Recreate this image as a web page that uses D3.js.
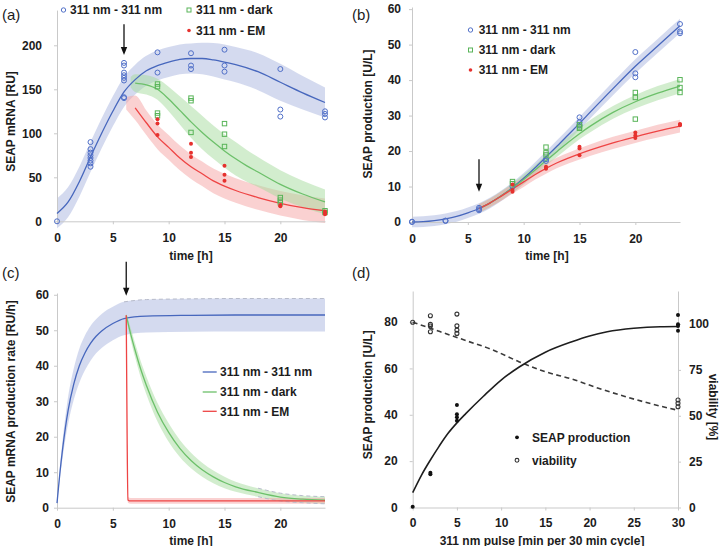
<!DOCTYPE html>
<html><head><meta charset="utf-8">
<script src="https://cdn.jsdelivr.net/npm/d3@7"></script>
<style>
body{margin:0;background:#fff;}
text{font-family:"Liberation Sans",Arial,sans-serif;}
</style></head><body>
<script>
// ---------- shared ----------
const timeTicks = [0, 5, 10, 15, 20];
const seriesNames = ["311 nm - 311 nm", "311 nm - dark", "311 nm - EM"];

// ---------- panel (a): SEAP mRNA [RU] ----------
const aYTicks = [0, 50, 100, 150, 200];
const aObsBlue = [[0,0],[3,90],[3,82],[3,78],[3,75],[3,72],[3,69],[3,66],[3,62],[6,180],[6,177],[6,169],[6,166],[6,163],[6,160],[6,141],[6,140],[9,192],[9,169],[12,191],[12,177],[12,173],[15,195],[15,177],[15,170],[20,173],[20,127],[20,119],[24,125],[24,122],[24,118]];
const aObsDark = [[9,156],[9,153],[9,123],[9,120],[12,140],[12,137],[12,101],[15,111],[15,99],[15,85],[20,27],[20,24],[20,21],[24,12],[24,10]];
const aObsEM = [[9,116],[9,111],[9,98],[12,88],[12,78],[12,73],[15,63],[15,53],[15,46],[20,18],[20,17],[24,11],[24,9],[24,8]];
const aFitBlueT = [0,1,2,3,4,5,6,7,8,9,10,11,12,13,14,15,16,18,20,22,24];
const aFitBlue  = [9,22,45,73,100,125,147,161,171,177,181,184,185,185,183.5,181,178,170,158,146,135];
const aBandBlue = [17,17,17,17,17,17,17,17,17,17,17,17,17,18,19,20,20,21,21,19,17];
const aFitDarkT = [6.6,7,8,9,10,11,12,13,14,15,16,17,18,20,22,24];
const aFitDark  = [158,157,155,150,139,126,113,101,90,80,71,63,56,42,31,22];
const aBandDark = [6,10,11,12,14,16,18,19,19,19,19,18,17,16,15,14];
const aFitEMT = [6.2,7,8,9,10,11,12,13,14,15,16,18,20,22,24];
const aFitEM  = [134,129,112,96,84,72,62,54,46,40,35,27,20.5,15.5,12];
const aBandEM = [7,14,14,14,14,14,14,14,14,14,14,14,14,14,14];

// ---------- panel (b): SEAP production [U/L] ----------
const bYTicks = [0, 10, 20, 30, 40, 50, 60];
const bObsBlue = [[0,0],[0,0.1],[3,0.3],[3,0.4],[6,4.0],[6,3.6],[6,3.3],[9,10.0],[12,17.7],[12,17.2],[15,29.5],[15,28.1],[15,27.3],[20,47.9],[20,41.9],[20,40.8],[24,55.8],[24,53.7],[24,53.2]];
const bObsDark = [[9,11.4],[9,10.8],[12,21.1],[12,19.5],[12,18.9],[15,27.4],[15,26.8],[15,26.4],[20,36.5],[20,35.1],[20,29.0],[24,40.1],[24,37.9],[24,36.5]];
const bObsEM = [[9,10.6],[9,9.0],[9,8.5],[12,15.6],[12,15.3],[12,15.0],[15,21.2],[15,20.7],[15,18.8],[20,25.2],[20,24.4],[20,23.7],[24,27.6],[24,27.4],[24,27.3]];
const bFitBlueT = [0,1,2,3,4,5,6,7,8,9,10,11,12,13,14,15,16,18,20,22,24];
const bFitBlue  = [0,0.1,0.4,0.9,1.6,2.6,3.8,5.4,7.4,9.7,12.3,15.2,18.3,21.4,24.6,27.8,31.1,37.6,43.9,49.6,55.3];
const bBandBlue = [1.5,1.5,1.5,1.5,1.5,1.5,1.5,1.5,1.5,1.5,1.5,1.6,1.6,1.7,1.7,1.8,1.8,1.9,2,2,2];
const bFitLaterT = [6,7,8,9,10,11,12,13,14,15,16,18,20,22,24];
const bFitDark  = [3.8,5.4,7.4,9.6,12.0,14.6,17.3,19.9,22.5,24.9,27.1,30.9,33.9,36.3,38.3];
const bBandDark = [1.2,1.2,1.3,1.3,1.4,1.4,1.5,1.5,1.6,1.6,1.7,1.8,1.9,2,2];
const bFitEM    = [3.8,5.4,7.3,9.3,11.3,13.3,15.1,16.7,18.0,19.2,20.3,22.3,24.0,25.6,27.0];
const bBandEM   = [1.2,1.2,1.3,1.3,1.4,1.4,1.5,1.5,1.5,1.6,1.6,1.7,1.7,1.8,1.8];

// ---------- panel (c): SEAP mRNA production rate [RU/h] ----------
const cYTicks = [0, 10, 20, 30, 40, 50, 60];
const cFitBlueT = [0,0.25,0.5,0.75,1,1.5,2,2.5,3,3.5,4,5,6,8,12,16,20,24];
const cFitBlue  = [1.3,9.5,16.5,22.5,27.5,34.8,40.0,43.6,46.3,48.3,49.8,51.9,53.3,54.0,54.2,54.3,54.3,54.3];
const cBandBlue = [0.5,1.5,2.5,3.2,3.8,4.4,4.8,4.9,4.9,4.8,4.8,4.7,4.7,4.65,4.65,4.65,4.65,4.65];
const cFitDarkT = [6.2,6.5,7,7.5,8,9,10,11,12,13,14,15,16,18,20,22,24];
const cFitDark  = [54.2,50.2,44.3,39.0,34.5,26.9,21.2,16.7,13.3,10.7,8.7,7.1,5.9,4.3,3.0,2.4,2.1];
const cBandDark = [0.5,1.5,2,2.3,2.5,2.6,2.6,2.4,2.2,2,1.8,1.6,1.4,1.2,1.1,1.0,1.0];
const cFitEMT = [6.2,6.28,6.35,6.6,24];
const cFitEM  = [54.2,20,2.2,1.9,1.9];
const cBandEM = [0.6,0.8,0.8,0.8,0.8];

// ---------- panel (d): pulse dose response ----------
const dXTicks = [0, 5, 10, 15, 20, 25, 30];
const dLeftTicks = [0, 20, 40, 60, 80];
const dRightTicks = [0, 25, 50, 75, 100];
const dSeapX = [0,2,2,5,5,5,5,30,30,30,30];
const dSeap  = [0.3,15,14.3,44.2,40.2,38.9,37.4,83,79.1,78.3,76.2];
const dViabX = [0,2,2,2,2,5,5,5,5,30,30,30];
const dViab  = [101,104.5,99.8,98.9,95.8,105.4,99,96.7,94.9,58.6,56.8,54.9];
const dFitSeapX = [0,1,2,3,4,5,6,8,10,12,15,18,20,22,25,28,30];
const dFitSeap  = [6.4,14,20.5,26.5,32,36.5,40.5,48,55,60.5,67,71.5,74,75.8,77.3,78,78.1];
const dFitViabX = [0,3,6,9,12,15,18,21,24,27,30];
const dFitViab  = [101,96,91,86,79.5,74,70,65,60.5,56.5,53];

// ---------- colours ----------
const C = {
  blueLine:"#4767bd", blueMark:"#5170c8", blueBand:"#a9b5e0",
  greenLine:"#6cc06a", greenMark:"#58b458", greenBand:"#a6dc9e",
  redLine:"#ee4444", redMark:"#e6312e", redBand:"#f6a3a3",
  axis:"#c9c9c9", text:"#1c1c1c"
};

const svg = d3.select("body").append("svg").attr("width",724).attr("height",546);

function styleAxis(g){
  g.select(".domain").attr("stroke",C.axis).attr("stroke-width",1);
  g.selectAll(".tick line").attr("stroke",C.axis);
  g.selectAll(".tick text").attr("fill",C.text).attr("font-size",12).attr("font-weight","bold")
    .attr("font-family",'"Liberation Sans",Arial,sans-serif');
}
function axes(x, y, xTicks, yTicks, xPad, yPad){
  const gx = svg.append("g").attr("transform",`translate(0,${y.range()[0]})`)
    .call(d3.axisBottom(x).tickValues(xTicks).tickSize(3).tickSizeOuter(0).tickPadding(xPad));
  styleAxis(gx);
  const gy = svg.append("g").attr("transform",`translate(${x.range()[0]},0)`)
    .call(d3.axisLeft(y).tickValues(yTicks).tickSize(3).tickSizeOuter(0).tickPadding(yPad));
  styleAxis(gy);
}
function band(x, y, ts, mid, hw, fill, op){
  const idx = d3.range(ts.length);
  const a = d3.area().curve(d3.curveMonotoneX)
    .x(i=>x(ts[i])).y0(i=>y(mid[i]-hw[i])).y1(i=>y(mid[i]+hw[i]));
  svg.append("path").datum(idx).attr("d",a).attr("fill",fill).attr("fill-opacity",op);
}
function fitLine(x, y, ts, vals, color, from, width, dash){
  const idx = d3.range(ts.length).filter(i=>ts[i]>=from);
  const l = d3.line().curve(d3.curveMonotoneX).x(i=>x(ts[i])).y(i=>y(vals[i]));
  svg.append("path").datum(idx).attr("d",l).attr("fill","none")
    .attr("stroke",color).attr("stroke-width",width||1.3).attr("stroke-dasharray",dash||null);
}
function edgeDash(x, y, ts, mid, hw, sign, from, color){
  const idx = d3.range(ts.length).filter(i=>ts[i]>=from);
  const l = d3.line().curve(d3.curveMonotoneX).x(i=>x(ts[i])).y(i=>y(mid[i]+sign*hw[i]));
  svg.append("path").datum(idx).attr("d",l).attr("fill","none")
    .attr("stroke",color).attr("stroke-width",1).attr("stroke-dasharray","4,3");
}
function circles(x, y, pts, color, r){
  svg.append("g").selectAll("circle").data(pts).join("circle")
    .attr("cx",d=>x(d[0])).attr("cy",d=>y(d[1])).attr("r",r)
    .attr("fill","none").attr("stroke",color).attr("stroke-width",1);
}
function squares(x, y, pts, color, s){
  svg.append("g").selectAll("rect").data(pts).join("rect")
    .attr("x",d=>x(d[0])-s/2).attr("y",d=>y(d[1])-s/2).attr("width",s).attr("height",s)
    .attr("fill","none").attr("stroke",color).attr("stroke-width",1);
}
function dots(x, y, pts, color, r){
  svg.append("g").selectAll("circle").data(pts).join("circle")
    .attr("cx",d=>x(d[0])).attr("cy",d=>y(d[1])).attr("r",r).attr("fill",color);
}
function arrow(x, y, t, v1, v2){
  const px = x(t), y1 = y(v1), y2 = y(v2);
  svg.append("line").attr("x1",px).attr("x2",px).attr("y1",y1).attr("y2",y2-7)
    .attr("stroke","#111").attr("stroke-width",1.3);
  svg.append("path").attr("d",`M${px-3.2},${y2-8}L${px+3.2},${y2-8}L${px},${y2}Z`).attr("fill","#111");
}
function label(txt, x, y, opts={}){
  const t = svg.append("text").attr("x",x).attr("y",y).text(txt)
    .attr("fill",C.text).attr("font-size",opts.size||12)
    .attr("font-weight",opts.weight||"bold").attr("text-anchor",opts.anchor||"start");
  if(opts.rot) t.attr("transform",`rotate(${opts.rot},${x},${y})`);
  return t;
}

// ================= PANEL A =================
{
  const x = d3.scaleLinear([0,24],[57,325]);
  const y = d3.scaleLinear([0,240],[221.3,10.1]);
  band(x,y,aFitBlueT,aFitBlue,aBandBlue,C.blueBand,0.5);
  band(x,y,aFitEMT,aFitEM,aBandEM,C.redBand,0.5);
  band(x,y,aFitDarkT,aFitDark,aBandDark,C.greenBand,0.5);
  axes(x,y,timeTicks,aYTicks,9,12);
  fitLine(x,y,aFitBlueT,aFitBlue,C.blueLine,-1);
  fitLine(x,y,aFitDarkT,aFitDark,C.greenLine,7);
  fitLine(x,y,aFitEMT,aFitEM,C.redLine,7);
  circles(x,y,aObsBlue,C.blueMark,2.5);
  squares(x,y,aObsDark,C.greenMark,4.4);
  dots(x,y,aObsEM,C.redMark,2);
  arrow(x,y,6,224,189);
  svg.append("circle").attr("cx",63.5).attr("cy",10).attr("r",2.2).attr("fill","none").attr("stroke",C.blueMark);
  label(seriesNames[0],70,14.3);
  svg.append("rect").attr("x",187).attr("y",8).attr("width",4).attr("height",4).attr("fill","none").attr("stroke",C.greenMark);
  label(seriesNames[1],196,14.3);
  svg.append("circle").attr("cx",189).attr("cy",30.5).attr("r",1.8).attr("fill",C.redMark);
  label(seriesNames[2],196,34.8);
  label("SEAP mRNA [RU]",15,121.5,{anchor:"middle",rot:-90});
  label("time [h]",191,259.5,{anchor:"middle"});
  label("(a)",2,19.5,{size:15,weight:"normal"});
}

// ================= PANEL B =================
{
  const x = d3.scaleLinear([0,24],[412,680]);
  const y = d3.scaleLinear([0,60.6],[222,7]);
  band(x,y,bFitBlueT,bFitBlue,bBandBlue,C.blueBand,0.5);
  band(x,y,bFitLaterT,bFitDark,bBandDark,C.greenBand,0.5);
  band(x,y,bFitLaterT,bFitEM,bBandEM,C.redBand,0.5);
  axes(x,y,timeTicks,bYTicks,9,8);
  fitLine(x,y,bFitBlueT,bFitBlue,C.blueLine,-1);
  fitLine(x,y,bFitLaterT,bFitDark,C.greenLine,6);
  fitLine(x,y,bFitLaterT,bFitEM,C.redLine,6);
  circles(x,y,bObsBlue,C.blueMark,2.5);
  squares(x,y,bObsDark,C.greenMark,4.4);
  dots(x,y,bObsEM,C.redMark,2);
  arrow(x,y,6,17.7,8.5);
  svg.append("circle").attr("cx",470.5).attr("cy",30).attr("r",2.2).attr("fill","none").attr("stroke",C.blueMark);
  label(seriesNames[0],478.7,34.3);
  svg.append("rect").attr("x",468.5).attr("y",48).attr("width",4).attr("height",4).attr("fill","none").attr("stroke",C.greenMark);
  label(seriesNames[1],478.7,54.3);
  svg.append("circle").attr("cx",470.5).attr("cy",70).attr("r",1.8).attr("fill",C.redMark);
  label(seriesNames[2],478.7,74.3);
  label("SEAP production [U/L]",372,114,{anchor:"middle",rot:-90});
  label("time [h]",547,259.5,{anchor:"middle"});
  label("(b)",352,19.5,{size:15,weight:"normal"});
}

// ================= PANEL C =================
{
  const x = d3.scaleLinear([0,24],[57,325]);
  const y = d3.scaleLinear([0,60.5],[507.7,293]);
  band(x,y,cFitBlueT,cFitBlue,cBandBlue,C.blueBand,0.5);
  band(x,y,cFitDarkT,cFitDark,cBandDark,C.greenBand,0.5);
  band(x,y,cFitEMT,cFitEM,cBandEM,C.redBand,0.5);
  edgeDash(x,y,cFitBlueT,cFitBlue,cBandBlue,1,6,"#b8bccb");
  edgeDash(x,y,cFitDarkT,cFitDark,cBandDark,1,18,"#b8bccb");
  edgeDash(x,y,cFitDarkT,cFitDark,cBandDark,-1,18,"#b8bccb");
  axes(x,y,timeTicks,cYTicks,9,5);
  fitLine(x,y,cFitBlueT,cFitBlue,C.blueLine,-1);
  fitLine(x,y,cFitDarkT,cFitDark,C.greenLine,6);
  fitLine(x,y,cFitEMT,cFitEM,C.redLine,6);
  arrow(x,y,6.2,69.3,59.7);
  const lg = [[C.blueLine,372],[C.greenLine,392],[C.redLine,411.3]];
  lg.forEach((d,i)=>{
    svg.append("line").attr("x1",202.7).attr("x2",216.7).attr("y1",d[1]).attr("y2",d[1]).attr("stroke",d[0]).attr("stroke-width",1.3);
    label(seriesNames[i],220,d[1]+4.3);
  });
  label("SEAP mRNA production rate [RU/h]",15,401.5,{anchor:"middle",rot:-90});
  label("time [h]",191,544.5,{anchor:"middle"});
  label("(c)",2,277.5,{size:15,weight:"normal"});
}

// ================= PANEL D =================
{
  const x = d3.scaleLinear([0,30],[412.7,678]);
  const yL = d3.scaleLinear([0,93.4],[507.5,291]);
  const yR = d3.scaleLinear([0,118],[507.5,291]);
  axes(x,yL,dXTicks,dLeftTicks,8,12);
  const gr = svg.append("g").attr("transform",`translate(678,0)`)
    .call(d3.axisRight(yR).tickValues(dRightTicks).tickSize(3).tickSizeOuter(0).tickPadding(8));
  styleAxis(gr);
  fitLine(x,yR,dFitViabX,dFitViab,"#3a3a3a",-1,1.6,"5,3.5");
  fitLine(x,yL,dFitSeapX,dFitSeap,"#1e1e1e",-1,1.6);
  const seapPts = dSeapX.map((v,i)=>[v,dSeap[i]]);
  const viabPts = dViabX.map((v,i)=>[v,dViab[i]]);
  svg.append("g").selectAll("circle").data(viabPts).join("circle")
    .attr("cx",d=>x(d[0])).attr("cy",d=>yR(d[1])).attr("r",2)
    .attr("fill","none").attr("stroke","#333").attr("stroke-width",1.1);
  dots(x,yL,seapPts,"#111",2);
  svg.append("circle").attr("cx",517).attr("cy",437.3).attr("r",1.9).attr("fill","#111");
  label("SEAP production",532,441.6);
  svg.append("circle").attr("cx",517).attr("cy",460.3).attr("r",1.9).attr("fill","none").attr("stroke","#333").attr("stroke-width",1.1);
  label("viability",532,464.6);
  label("SEAP production [U/L]",372,394.7,{anchor:"middle",rot:-90});
  label("viability [%]",709,407,{anchor:"middle",rot:90});
  label("311 nm pulse [min per 30 min cycle]",542,544.5,{anchor:"middle"});
  label("(d)",352,277.5,{size:15,weight:"normal"});
}
</script></body></html>
